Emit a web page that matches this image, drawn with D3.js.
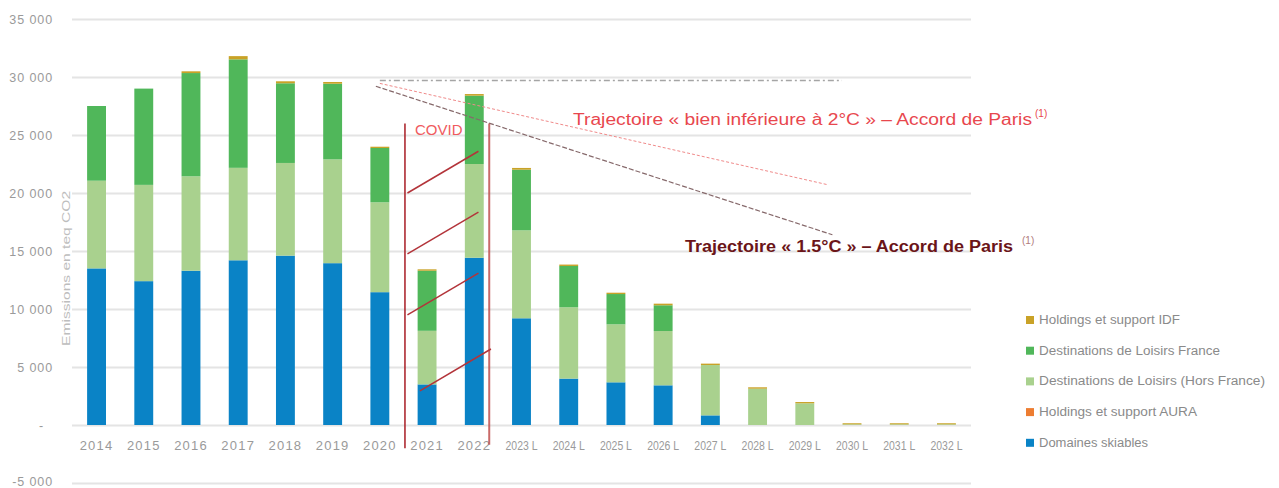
<!DOCTYPE html>
<html>
<head>
<meta charset="utf-8">
<script src="https://cdn.jsdelivr.net/npm/d3@7"></script>
<style>
  body { margin: 0; background: #fff; }
  svg text { font-family: "Liberation Sans", "DejaVu Sans", sans-serif; }
</style>
</head>
<body>
<div id="chart"></div>
<script>
const years = ["2014", "2015", "2016", "2017", "2018", "2019", "2020", "2021", "2022",
  "2023 L", "2024 L", "2025 L", "2026 L", "2027 L", "2028 L", "2029 L", "2030 L", "2031 L", "2032 L"];

// emissions en teq CO2, par activité
const domaines   = [13500, 12400, 13300, 14200, 14600, 13950, 11450, 3500, 14420, 9200, 4000, 3680, 3420, 830, 0, 0, 0, 0, 0];
const aura       = [0, 0, 0, 0, 0, 0, 0, 0, 0, 0, 0, 0, 0, 0, 0, 0, 0, 0, 0];
const horsFrance = [7560, 8300, 8140, 7970, 7990, 8950, 7750, 4620, 8080, 7580, 6150, 5000, 4680, 4340, 3130, 1870, 60, 60, 60];
const france     = [6440, 8300, 8900, 9350, 6870, 6520, 4680, 5180, 5890, 5230, 3560, 2610, 2220, 0, 0, 0, 0, 0, 0];
const idf        = [0, 0, 150, 280, 170, 150, 110, 120, 140, 150, 120, 115, 140, 120, 120, 110, 90, 90, 90];

const yTicks = [-5000, 0, 5000, 10000, 15000, 20000, 25000, 30000, 35000];

// trajectoires (début 2020 -> fin 2029)
const trajRef = [29700, 29700];
const traj2C = [29450, 20700];
const traj15 = [29200, 16400];

// hachures COVID : valeur de départ de chaque trait
const covidHatch = [20000, 14750, 9500, 2950];

const series = [
  { key: "domaines", label: "Domaines skiables", color: "#0a83c6", values: domaines, len: 122 },
  { key: "aura", label: "Holdings et support AURA", color: "#ed7d31", values: aura, len: 171 },
  { key: "horsFrance", label: "Destinations de Loisirs (Hors France)", color: "#a9d18e", values: horsFrance, len: 239 },
  { key: "france", label: "Destinations de Loisirs France", color: "#50b75a", values: france, len: 194 },
  { key: "idf", label: "Holdings et support IDF", color: "#c9a227", values: idf, len: 154 }
];

const rows = years.map((yr, i) => {
  const r = { year: yr };
  series.forEach(s => { r[s.key] = s.values[i]; });
  return r;
});

const width = 1279;
const height = 488;

const svg = d3.select("#chart")
  .append("svg")
  .attr("width", width)
  .attr("height", height);

const x = d3.scaleBand()
  .domain(years)
  .range([72, 971])
  .paddingInner(0.6)
  .paddingOuter(0.32);

const y = d3.scaleLinear()
  .domain([-5000, 35000])
  .range([483, 19]);

const fmtNum = d => {
  if (d === 0) return "-";
  const s = d3.format(",")(Math.abs(d)).replace(/,/g, " ");
  return (d < 0 ? "-" : "") + s;
};

// grille + labels Y
const yAxis = svg.append("g")
  .attr("transform", "translate(72,0)")
  .call(d3.axisLeft(y)
    .tickValues(yTicks)
    .tickSize(-(971 - 72))
    .tickPadding(19)
    .tickFormat(fmtNum));

yAxis.select(".domain").remove();
yAxis.selectAll(".tick line")
  .attr("stroke", "#e4e4e4")
  .attr("stroke-width", 2);
yAxis.selectAll(".tick text")
  .attr("fill", "#9a9a9a")
  .attr("font-size", 12.5)
  .attr("letter-spacing", "0.9px")
  .attr("x", d => d === 0 ? -28 : -19)
  .attr("dy", d => d === -5000 ? "0.2em" : "0.32em");

svg.append("text")
  .attr("transform", "translate(70," + y(13500) + ") rotate(-90)")
  .attr("text-anchor", "middle")
  .attr("font-size", 11)
  .attr("fill", "#bdbdbd")
  .attr("textLength", 155)
  .attr("lengthAdjust", "spacingAndGlyphs")
  .text("Emissions en teq CO2");

// barres empilées
const stacked = d3.stack()
  .keys(series.map(s => s.key))(rows);

svg.append("g")
  .selectAll("g")
  .data(stacked)
  .enter()
  .append("g")
  .attr("fill", (d, i) => series[i].color)
  .selectAll("rect")
  .data(d => d)
  .enter()
  .append("rect")
  .attr("x", d => x(d.data.year))
  .attr("width", x.bandwidth())
  .attr("y", d => y(d[1]))
  .attr("height", d => Math.max(0, y(d[0]) - y(d[1])));

// labels X
const xAxis = svg.append("g")
  .attr("transform", "translate(0," + y(0) + ")")
  .call(d3.axisBottom(x).tickSize(0).tickPadding(16));

xAxis.select(".domain").remove();
xAxis.selectAll(".tick text")
  .attr("fill", "#9a9a9a")
  .attr("font-size", 13)
  .attr("letter-spacing", d => d.length > 4 ? null : "1.2px")
  .attr("textLength", d => d.length > 4 ? 32 : null)
  .attr("lengthAdjust", "spacingAndGlyphs");

// trajectoires
const xStart = x("2020") + x.bandwidth() / 2;
const xEnd = x("2029 L") + x.bandwidth() / 2 + x.step() / 2;
const xEndRef = x("2030 L") + x.bandwidth() / 2 - 10;

svg.append("path")
  .attr("d", d3.line()([[xStart, y(trajRef[0])], [xEndRef, y(trajRef[1])]]))
  .attr("stroke", "#a5a5a5")
  .attr("stroke-width", 1.5)
  .attr("stroke-dasharray", "6,3,2,3")
  .attr("fill", "none");

svg.append("path")
  .attr("d", d3.line()([[xStart, y(traj2C[0])], [xEnd, y(traj2C[1])]]))
  .attr("stroke", "#f08a8a")
  .attr("stroke-width", 1)
  .attr("stroke-dasharray", "3,2")
  .attr("fill", "none");

svg.append("path")
  .attr("d", d3.line()([[xStart - 4, y(traj15[0])], [xEnd + 4, y(traj15[1])]]))
  .attr("stroke", "#86696b")
  .attr("stroke-width", 1.2)
  .attr("stroke-dasharray", "5,2")
  .attr("fill", "none");

// COVID
const xCovidL = x("2021") - x.step() * 0.3 + 1.5;
const xCovidR = x("2022") + x.bandwidth() + 5.5;

svg.append("path")
  .attr("d", d3.line()([[xCovidL, y(26000)], [xCovidL, y(-2000)]]))
  .attr("stroke", "#a81c24")
  .attr("stroke-width", 1.5)
  .attr("fill", "none");

svg.append("path")
  .attr("d", d3.line()([[xCovidR, y(26000)], [xCovidR, y(-1700)]]))
  .attr("stroke", "#c0504d")
  .attr("stroke-width", 2)
  .attr("stroke-opacity", 0.85)
  .attr("fill", "none");

svg.selectAll(".hatch")
  .data(covidHatch)
  .enter()
  .append("path")
  .attr("class", "hatch")
  .attr("d", (v, i) => {
    const dx = i === 3 ? 15 : 2.5;
    return d3.line()([[xCovidL + dx, y(v)], [xCovidL + dx + 71, y(v + 3600)]]);
  })
  .attr("stroke", "#b3343a")
  .attr("stroke-width", 1.5)
  .attr("fill", "none");

svg.append("text")
  .attr("x", xCovidL + 10)
  .attr("y", 135)
  .attr("font-size", 15)
  .attr("fill", "#f05a5e")
  .text("COVID");

// textes trajectoires
const t2 = svg.append("text")
  .attr("x", 573)
  .attr("y", 125)
  .attr("font-size", 16)
  .attr("fill", "#e8474e");
t2.append("tspan")
  .attr("textLength", 459)
  .attr("lengthAdjust", "spacingAndGlyphs")
  .text("Trajectoire « bien inférieure à 2°C » – Accord de Paris");
t2.append("tspan")
  .attr("dx", 3)
  .attr("dy", -8)
  .attr("font-size", 10)
  .text("(1)");

const t15 = svg.append("text")
  .attr("x", 685)
  .attr("y", 252)
  .attr("font-size", 16)
  .attr("font-weight", "bold")
  .attr("fill", "#6b1519");
t15.append("tspan")
  .attr("textLength", 328)
  .attr("lengthAdjust", "spacingAndGlyphs")
  .text("Trajectoire « 1.5°C » – Accord de Paris");
t15.append("tspan")
  .attr("dx", 9)
  .attr("dy", -8)
  .attr("font-size", 10)
  .attr("font-weight", "normal")
  .attr("fill", "#b07a7c")
  .text("(1)");

// légende
const legend = svg.append("g")
  .selectAll("g")
  .data(series.slice().reverse())
  .enter()
  .append("g")
  .attr("transform", (d, i) => "translate(1026," + (316 + i * 30.7) + ")");

legend.append("rect")
  .attr("width", 8)
  .attr("height", 8)
  .attr("fill", d => d.color);

legend.append("text")
  .attr("x", 13)
  .attr("y", 8)
  .attr("font-size", 12)
  .attr("fill", "#8a8a8a")
  .attr("textLength", d => d.len - 13)
  .attr("lengthAdjust", "spacingAndGlyphs")
  .text(d => d.label);
</script>
</body>
</html>
